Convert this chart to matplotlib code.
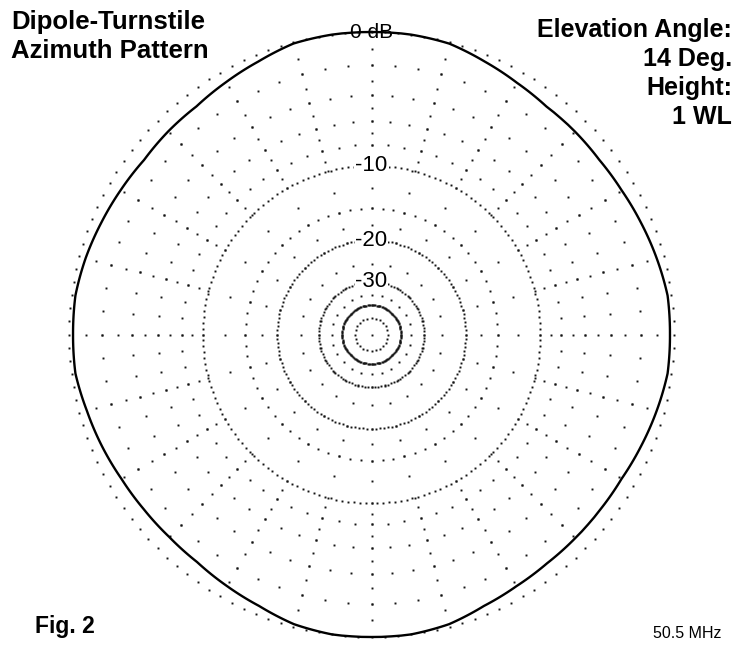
import numpy as np
import matplotlib.pyplot as plt

plt.rcParams['font.family'] = ['Liberation Sans', 'DejaVu Sans']

# pattern: compass azimuth (deg, clockwise from top) and gain (dB)
az_deg = [0, 7.5, 15, 22.5, 30, 37.5, 45, 52.5, 60, 67.5, 75, 82.5, 90, 97.5, 105, 112.5,
          120, 127.5, 135, 142.5, 150, 157.5, 165, 172.5, 180, 187.5, 195, 202.5, 210, 217.5,
          225, 232.5, 240, 247.5, 255, 262.5, 270, 277.5, 285, 292.5, 300, 307.5, 315, 322.5,
          330, 337.5, 345, 352.5]
gain_db = [0.0, 0.0, -0.08, -0.40, -0.68, -0.88, -0.88, -0.90, -0.80, -0.62, -0.42, -0.22,
           -0.23, -0.22, -0.42, -0.62, -0.80, -0.84, -0.84, -0.82, -0.70, -0.50, -0.15, 0.0,
           0.0, 0.0, -0.15, -0.50, -0.72, -0.92, -0.95, -0.90, -0.80, -0.62, -0.45, -0.22,
           -0.23, -0.22, -0.38, -0.58, -0.76, -0.92, -0.88, -0.87, -0.65, -0.40, -0.07, 0.0]

# grid of the ARRL log scale
major_rings = [0, -10, -20, -30, -40]
major_step = [2.5, 2.0, 2.5, 3.6, 2.5]      # degrees between dots
minor_rings = [-2, -4, -6, -8, -15]
spoke_db = [-1, -2, -3, -4, -5, -6, -7, -8, -9, -10,
            -12.5, -15, -17.5, -20, -25, -30, -35, -40, -50]
ring_labels = ['-10', '-20', '-30']
label_db = [-10, -20, -30]


def arrl(db):
    """ARRL log-periodic radius: each 2 dB shrinks the radius by 0.89"""
    return 0.89 ** (-np.asarray(db, dtype=float) / 2)


fig = plt.figure(figsize=(7.35, 6.52), dpi=100)
ax = fig.add_axes([0.0939, 0.0230, 0.8231, 0.9279], projection='polar')
ax.set_theta_zero_location('N')
ax.set_theta_direction(-1)
ax.set_ylim(0, 1)
ax.grid(False)
ax.set_xticks([])
ax.set_yticks([])
ax.spines['polar'].set_visible(False)

dot = dict(linestyle='none', marker='s', ms=1.4, color='#141414', mec='none', clip_on=False)

for db, step in zip(major_rings, major_step):
    th = np.deg2rad(np.arange(0, 360, step))
    ax.plot(th, np.full(th.shape, arrl(db)), **dot)

for db in minor_rings:
    th = np.deg2rad(np.arange(0, 360, 5))
    ax.plot(th, np.full(th.shape, arrl(db)), **dot)

for a in np.arange(0, 360, 15):
    ax.plot(np.full(len(spoke_db), np.deg2rad(a)), arrl(spoke_db), **dot)
ax.plot([0], [0], **dot)

# pattern
th = np.deg2rad(az_deg + [360])
line, = ax.plot(th, arrl(gain_db + gain_db[:1]), color='black', lw=1.7, clip_on=False, zorder=5)
line.get_path()._interpolation_steps = 10

for txt, db in zip(ring_labels, label_db):
    ax.text(0, arrl(db), txt, ha='center', va='center', fontsize=16, zorder=6,
            bbox=dict(fc='white', ec='none', pad=0.6))
ax.text(0, 1.0, '0 dB', ha='center', va='center', fontsize=15, zorder=6)

fig.text(0.0150, 0.9548, 'Dipole-Turnstile', fontsize=18.5, fontweight='bold', va='baseline')
fig.text(0.0150, 0.9110, 'Azimuth Pattern', fontsize=18.5, fontweight='bold', va='baseline')

right_lines = ['Elevation Angle:', '14 Deg.', 'Height:', '1 WL']
for i, s in enumerate(right_lines):
    fig.text(0.9959, 0.9440 - i * 0.0445, s, fontsize=18, fontweight='bold',
             ha='right', va='baseline')

fig.text(0.0476, 0.0291, 'Fig. 2', fontsize=16.5, fontweight='bold', va='baseline')
fig.text(0.981, 0.0215, '50.5 MHz', fontsize=11.5, ha='right', va='baseline')

fig.savefig('out.png', dpi=100)
